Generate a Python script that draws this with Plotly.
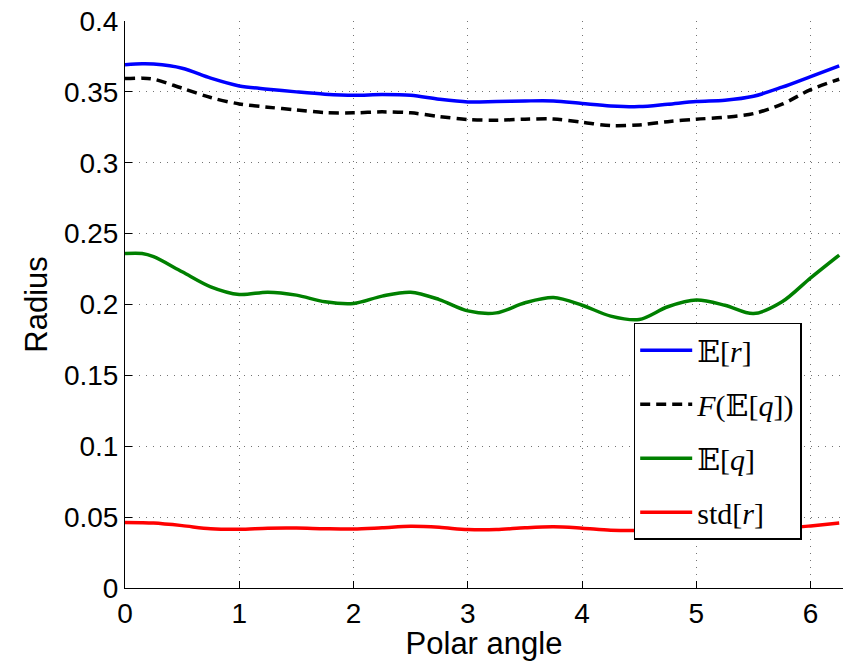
import math
import plotly.graph_objects as go

# ---- data ----
angle = [0.0, 0.15, 0.25, 0.5, 0.75, 1.0, 1.25, 1.5, 1.75, 2.0, 2.25, 2.5, 2.75,
         3.0, 3.25, 3.5, 3.75, 4.0, 4.25, 4.5, 4.75, 5.0, 5.25, 5.5, 5.75, 6.0, 6.25]

E_r = [0.3691, 0.3698, 0.3696, 0.3667, 0.3597, 0.3542, 0.3519, 0.3500, 0.3484, 0.3476,
       0.3481, 0.3476, 0.3448, 0.3429, 0.3432, 0.3436, 0.3436, 0.3418, 0.3401, 0.3396,
       0.3413, 0.3432, 0.3441, 0.3469, 0.3533, 0.3608, 0.3684]

F_Eq = [0.3594, 0.3597, 0.3590, 0.3526, 0.3460, 0.3415, 0.3392, 0.3373, 0.3354, 0.3352,
        0.3359, 0.3352, 0.3326, 0.3305, 0.3300, 0.3307, 0.3309, 0.3286, 0.3262, 0.3267,
        0.3290, 0.3307, 0.3321, 0.3347, 0.3413, 0.3516, 0.3589]

E_q = [0.2360, 0.2360, 0.2337, 0.2231, 0.2125, 0.2071, 0.2087, 0.2066, 0.2019, 0.2007,
       0.2059, 0.2087, 0.2035, 0.1955, 0.1941, 0.2012, 0.2049, 0.1995, 0.1918, 0.1894,
       0.1984, 0.2031, 0.1995, 0.1936, 0.2019, 0.2188, 0.2349]

std_r = [0.0462, 0.0461, 0.0458, 0.0440, 0.0418, 0.0414, 0.0422, 0.0423, 0.0418, 0.0416,
         0.0425, 0.0435, 0.0428, 0.0412, 0.0412, 0.0425, 0.0432, 0.0422, 0.0408, 0.0406,
         0.0415, 0.0425, 0.0420, 0.0410, 0.0420, 0.0438, 0.0459]

series_names = ["𝔼[<i>r</i>]", "<i>F</i>(𝔼[<i>q</i>])", "𝔼[<i>q</i>]", "std[<i>r</i>]"]

x_ticks = [0, 1, 2, 3, 4, 5, 6]
x_tick_labels = ["0", "1", "2", "3", "4", "5", "6"]
y_ticks = [0, 0.05, 0.1, 0.15, 0.2, 0.25, 0.3, 0.35, 0.4]
y_tick_labels = ["0", "0.05", "0.1", "0.15", "0.2", "0.25", "0.3", "0.35", "0.4"]

# ---- figure ----
fig = go.Figure()
styles = [
    dict(color="#0000FF", width=3.5),
    dict(color="#000000", width=3.5, dash="10px,6px"),
    dict(color="#008000", width=3.5),
    dict(color="#FF0000", width=3.5),
]
for i, (ys, name, st) in enumerate(zip([E_r, F_Eq, E_q, std_r], series_names, styles)):
    fig.add_trace(go.Scatter(x=angle, y=ys, mode="lines", name=name,
                             line=dict(shape="spline", smoothing=0.9, **st),
                             legendgroup=f"g{i}"))

tick_font = dict(family="Liberation Sans, Arial, sans-serif", size=28, color="black")
title_font = dict(family="Liberation Sans, Arial, sans-serif", size=31, color="black")
grid = dict(showgrid=True, gridcolor="rgba(0,0,0,0.55)", gridwidth=1, griddash="1px,6px")

fig.update_layout(
    width=844, height=661,
    margin=dict(l=125, r=1, t=21, b=73, pad=0),
    paper_bgcolor="white", plot_bgcolor="white",
    showlegend=True,
    legend=dict(
        x=0.7085, y=0.468, xanchor="left", yanchor="top",
        bgcolor="white", bordercolor="black", borderwidth=1.5,
        font=dict(family="Liberation Serif, DejaVu Serif, serif", size=30, color="black"),
        traceorder="grouped", tracegroupgap=12, itemwidth=52,
    ),
    xaxis=dict(
        range=[0, 2 * math.pi], tickvals=x_ticks, ticktext=x_tick_labels,
        ticks="inside", ticklen=7, tickcolor="black", tickwidth=1,
        showline=True, linecolor="black", linewidth=1, mirror=False,
        zeroline=False, tickfont=tick_font,
        title=dict(text="Polar angle", font=title_font, standoff=0),
        automargin=False, **grid,
    ),
    yaxis=dict(
        range=[0, 0.4], tickvals=y_ticks, ticktext=y_tick_labels,
        ticks="inside", ticklen=7, tickcolor="black", tickwidth=1,
        showline=True, linecolor="black", linewidth=1, mirror=False,
        zeroline=False, tickfont=tick_font,
        title=dict(text="Radius", font=title_font, standoff=7),
        automargin=False, **grid,
    ),
)

fig.write_html("out.html", config={"displayModeBar": False},
               post_script="document.body.style.margin='0';")
